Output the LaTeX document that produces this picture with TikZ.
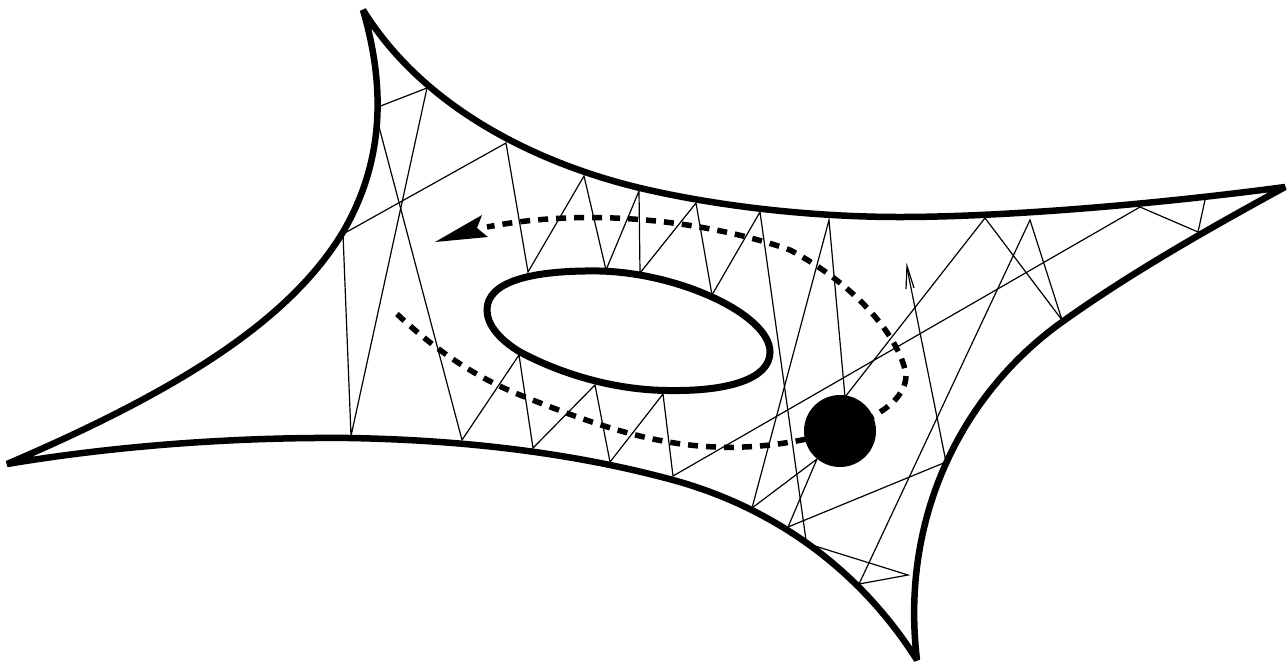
\documentclass[tikz,border=0pt]{standalone}
\tikzset{
  thin ray/.style={draw=black,line width=1.2pt,line join=miter},
  boundary/.style={draw=black,line width=6.5pt,line join=miter,miter limit=4},
  hole/.style={draw=black,line width=7pt},
  orbit/.style={draw=black,line width=5.5pt,dash pattern=on 10pt off 8pt},
  ball/.style={fill=black,draw=none},
  headtip/.style={fill=black,draw=none}
}
\begin{document}
\begin{tikzpicture}[x=1pt,y=-1pt]
\useasboundingbox (0,0) rectangle (1287,665);
% billiard trajectory
\path[thin ray] (378,107)--(427,88)--(351,436)--(343,234)--(506,143)--(528,272)--(584,176)--(606,270)--(639,191)--(640,273)--(696,203)--(712,295)--(760,212)--(806,540);
\path[thin ray] (815,546)--(908,575)--(859,584)--(1030,220)--(1062,320)--(985,218)--(845,397);
\path[thin ray] (845,397)--(829,220)--(752,508)--(817,459)--(788,527)--(946,462)--(907,268);
\path[thin ray] (906,289)--(907,266)--(914,288);
\path[thin ray] (378,123)--(462,440)--(519,355)--(533,448)--(595,385)--(610,462)--(663,394)--(673,476)--(1140,207)--(1198,232)--(1205,200);
% outer boundary
\path[boundary] (363,10)
  .. controls (425,110) and (540,164) .. (640,188)
  .. controls (725,208) and (820,217) .. (900,217)
  .. controls (1000,217) and (1150,205) .. (1285,187)
  .. controls (1210,228) and (1132,272) .. (1062,322)
  .. controls (960,395) and (900,520) .. (917,660)
  .. controls (860,570) and (775,508) .. (673,480)
  .. controls (570,452) and (460,440) .. (350,438)
  .. controls (240,437) and (120,445) .. (7,464)
  .. controls (180,390) and (290,320) .. (343,232)
  .. controls (385,160) and (385,85) .. cycle;
% hole
\path[hole] (487,310)
  .. controls (487,282) and (530,270) .. (600,271)
  .. controls (680,273) and (770,315) .. (770,352)
  .. controls (770,380) and (725,391) .. (673,390.5)
  .. controls (620,391) and (565,376) .. (520,352)
  .. controls (500,340) and (487,325) .. cycle;
% dashed orbit
\path[orbit] (397,314) .. controls (430,345) and (470,375) .. (520,395)
  .. controls (610,431) and (680,455) .. (770,445)
  .. controls (830,438) and (906,415) .. (906,375)
  .. controls (902,345) and (865,290) .. (790,250)
  .. controls (720,225) and (600,205) .. (487,227);
\path[headtip] (435,242)--(482,215)--(477,228)--(488,237)--cycle;
\path[ball] (840,431) circle (36);
\end{tikzpicture}
\end{document}
